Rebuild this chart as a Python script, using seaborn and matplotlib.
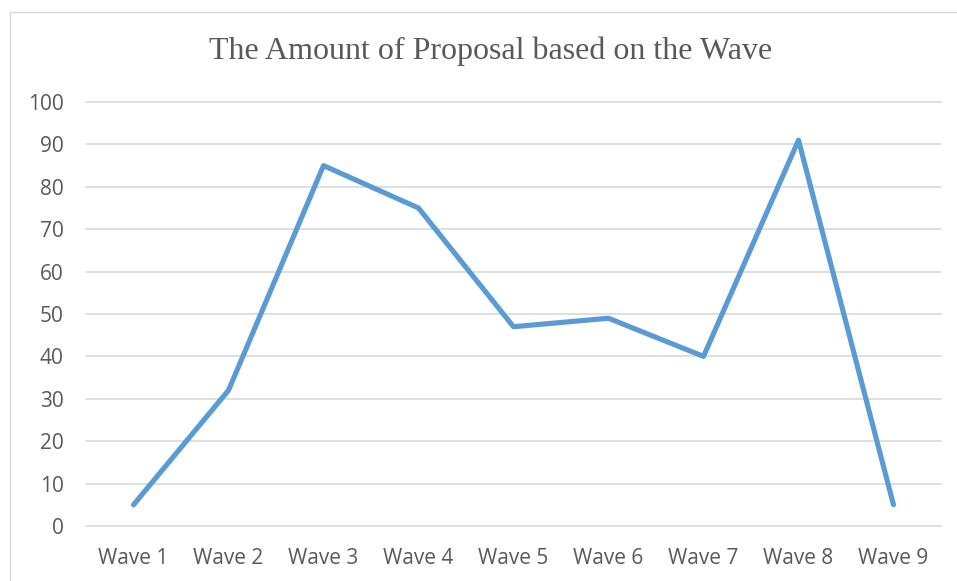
import matplotlib
matplotlib.use("Agg")
import matplotlib.pyplot as plt
import seaborn as sns
import pandas as pd
from matplotlib.patches import Rectangle

waves = ["Wave 1", "Wave 2", "Wave 3", "Wave 4", "Wave 5", "Wave 6", "Wave 7", "Wave 8", "Wave 9"]
proposals = [5, 32, 85, 75, 47, 49, 40, 91, 5]
yticks = [0, 10, 20, 30, 40, 50, 60, 70, 80, 90, 100]
title = "The Amount of Proposal based on the Wave"

sns.set_theme(style="white")
plt.rcParams['font.family'] = ['Open Sans', 'DejaVu Sans']

W, H = 957, 581
fig = plt.figure(figsize=(W / 100, H / 100), dpi=100)
fig.patch.set_facecolor("white")

# outer chart border
fig.patches.append(Rectangle((9.5 / W, -0.1), 2.0, 1 - 12.5 / H + 0.1,
                             transform=fig.transFigure, fill=False,
                             edgecolor="#D9D9D9", linewidth=1.0))

ax = fig.add_axes([86 / W, 55 / H, (941 - 86) / W, (526 - 102) / H])
df = pd.DataFrame({"wave": waves, "proposals": proposals})
sns.lineplot(data=df, x="wave", y="proposals", sort=False, ax=ax,
             color="#5B9BD5", linewidth=3.7, solid_joinstyle="round",
             solid_capstyle="round")

ax.set_xlim(-0.5, len(waves) - 0.5)
ax.set_ylim(0, 100)
ax.set_yticks(yticks)
ax.set_yticklabels([str(t) for t in yticks])
ax.yaxis.grid(True, color="#D9D9D9", linewidth=1.2)
ax.xaxis.grid(False)
for gl in ax.get_ygridlines():
    gl.set_clip_on(False)
ax.set_axisbelow(True)
for s in ax.spines.values():
    s.set_visible(False)
ax.set_xlabel("")
ax.set_ylabel("")
ax.tick_params(axis="both", length=0, labelsize=15, labelcolor="#595959")
ax.tick_params(axis="y", pad=16)
ax.tick_params(axis="x", pad=16)

fig.text((209 + 772) / 2 / W, 1 - 51 / H, title, ha="center", va="center",
         family="Liberation Serif", fontsize=23, color="#595959")

fig.savefig("out.png", dpi=100)
